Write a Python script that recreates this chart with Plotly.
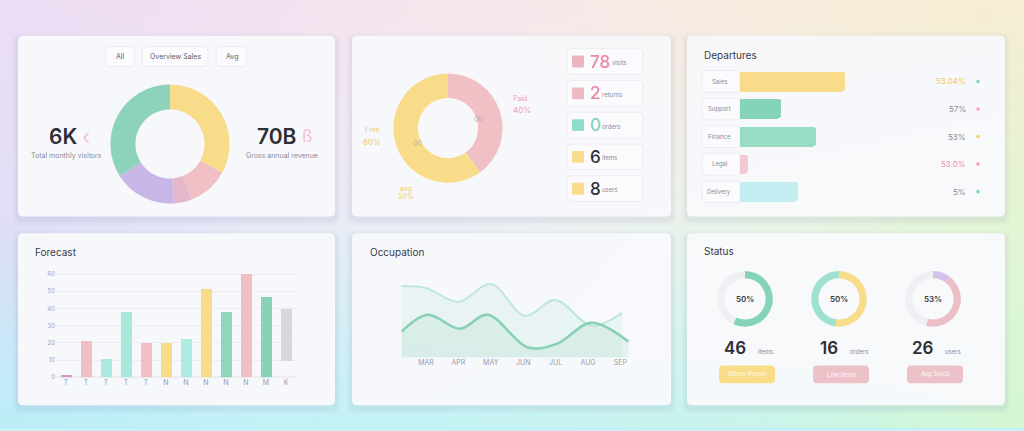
import base64
import struct
import zlib

import numpy as np
import plotly.graph_objects as go

W, H = 1024, 431

# ---- data -------------------------------------------------------------
filter_pills = ["All", "Overview Sales", "Avg"]
kpi_left, kpi_left_label = "6K", "Total monthly visitors"
kpi_right, kpi_right_label = "70B", "Gross annual revenue"

region_labels = ["North", "East", "South", "West", "Central"]
region_values = [33, 11, 5, 17, 34]

share_labels = ["Paid", "Free"]
share_values = [40, 60]

legend_numbers = ["78", "2", "0", "6", "8"]
legend_labels = ["visits", "returns", "orders", "items", "users"]

dept_labels = ["Sales", "Support", "Finance", "Legal", "Delivery"]
dept_values = [84, 33, 61, 6, 46]
dept_pct = ["53.04%", "57%", "53%", "53.0%", "5%"]

forecast_ticks = ["T", "T", "T", "T", "T", "N", "N", "N", "N", "N", "M", "K"]
forecast_base = [0, 0, 0, 0, 0, 0, 0, 0, 0, 0, 0, 10]
forecast_values = [1.5, 21.5, 10.8, 38.3, 20.4, 20.4, 22.7, 51.7, 38.4, 60.5, 46.9, 30]

occ_ticks = ["MAR", "APR", "MAY", "JUN", "JUL", "AUG", "SEP"]
occ_upper_x = [0.25, 1, 2, 3, 4.05, 5, 6.1, 7.05]
occ_upper_y = [72, 70, 56, 74, 42, 58, 32, 45]
occ_lower_x = [0.25, 1.05, 2.05, 2.9, 4.15, 5.05, 6.1, 7.25]
occ_lower_y = [26, 43, 29, 43, 10, 14, 35, 16]

status_rings = [[57, 43], [52, 48], [10, 44, 46]]
status_centre = ["50%", "50%", "53%"]
status_values = ["46", "16", "26"]
status_units = ["items", "orders", "users"]
status_buttons = ["Status Report", "Low Items", "Avg Stock"]

# ---- styles -----------------------------------------------------------
YELLOW, PINK, MAUVE, LAVENDER, GREEN = "#f9dc8a", "#f1c0c5", "#e4b7cb", "#c7b6e6", "#8dd3bb"
TEAL, CYAN, GREY_TRACK = "#9fe0cf", "#c3edf0", "#eef0f4"
DARK, MUTED = "#2e2e36", "#8a8a96"
FONT = "Inter"

region_colors = [YELLOW, PINK, MAUVE, LAVENDER, GREEN]
share_colors = [PINK, YELLOW]
legend_square = ["#ebb4bf", "#eebac4", "#8fdcca", YELLOW, YELLOW]
legend_text = ["#e88aa8", "#e88aa8", "#7fd3c0", DARK, DARK]
dept_colors = [YELLOW, "#86d4b8", "#98dcc4", "#f2c9d0", CYAN]
dept_pct_colors = ["#f2c85c", MUTED, MUTED, "#ee8fa8", MUTED]
dept_dot_colors = ["#7fd6c4", "#f3a0b2", "#f7d06a", "#f3a0b2", "#7fd6c4"]
forecast_colors = ["#d99bbf", PINK, "#abe9de", "#a8e8dd", PINK, YELLOW,
                   "#b0ebe2", YELLOW, "#8fd6bd", PINK, "#88d2b8", "#d8d8d8"]
ring_colors = [["#86d4b8", GREY_TRACK], [YELLOW, TEAL], ["#d3c3ec", "#ecbfc6", GREY_TRACK]]
button_colors = ["#f9dc88", "#ecc2c8", "#ecc2c8"]
PAGE_BOTTOM = "#c6f1f6"


def fx(x):
    return x / W


def fy(y):
    return 1 - y / H


def round_rect(x0, y0, x1, y1, r):
    rx, ry = r / W, r / H
    a, b, c, d = fx(x0), fy(y1), fx(x1), fy(y0)
    return (f"M{a + rx},{b} L{c - rx},{b} Q{c},{b} {c},{b + ry} L{c},{d - ry} "
            f"Q{c},{d} {c - rx},{d} L{a + rx},{d} Q{a},{d} {a},{d - ry} "
            f"L{a},{b + ry} Q{a},{b} {a + rx},{b} Z")


def png_uri(rgb):
    h, w, _ = rgb.shape
    raw = b"".join(b"\x00" + rgb[i].astype(np.uint8).tobytes() for i in range(h))

    def chunk(tag, body):
        return struct.pack(">I", len(body)) + tag + body + struct.pack(">I", zlib.crc32(tag + body) & 0xffffffff)

    png = (b"\x89PNG\r\n\x1a\n" + chunk(b"IHDR", struct.pack(">IIBBBBB", w, h, 8, 2, 0, 0, 0))
           + chunk(b"IDAT", zlib.compress(raw)) + chunk(b"IEND", b""))
    return "data:image/png;base64," + base64.b64encode(png).decode()


# background gradient built from a few colour stops
stops = np.array([
    [[236, 222, 246], [244, 225, 240], [247, 232, 236], [248, 236, 222], [247, 238, 210]],
    [[226, 222, 246], [234, 234, 246], [238, 240, 244], [236, 244, 232], [228, 246, 212]],
    [[188, 238, 248], [194, 242, 247], [198, 243, 243], [202, 245, 236], [212, 247, 212]],
], dtype=float)
gh, gw = 54, 128
ys = np.linspace(0, stops.shape[0] - 1, gh)
xs = np.linspace(0, stops.shape[1] - 1, gw)
y0i = np.clip(np.floor(ys).astype(int), 0, stops.shape[0] - 2)
x0i = np.clip(np.floor(xs).astype(int), 0, stops.shape[1] - 2)
ty = (ys - y0i)[:, None, None]
tx = (xs - x0i)[None, :, None]
top = stops[y0i][:, x0i] * (1 - tx) + stops[y0i][:, x0i + 1] * tx
bot = stops[y0i + 1][:, x0i] * (1 - tx) + stops[y0i + 1][:, x0i + 1] * tx
background = top * (1 - ty) + bot * ty

fig = go.Figure()
shapes = []
ann = []


def text(x, y, s, size=8, color=MUTED, anchor="center", weight=400):
    ann.append(dict(x=fx(x), y=fy(y), xref="paper", yref="paper", text=s, showarrow=False,
                    xanchor=anchor, yanchor="middle",
                    font=dict(family=FONT, size=size, color=color, weight=weight)))


def box(x0, y0, x1, y1, r=4, fill="#ffffff", line="rgba(0,0,0,0)", width=0):
    shapes.append(dict(type="path", path=round_rect(x0, y0, x1, y1, r), xref="paper", yref="paper",
                       fillcolor=fill, line=dict(color=line, width=width), layer="below"))


def dot(x, y, r, color):
    shapes.append(dict(type="circle", xref="paper", yref="paper", x0=fx(x - r), x1=fx(x + r),
                       y0=fy(y + r), y1=fy(y - r), fillcolor=color, line=dict(width=0), layer="below"))


cards = [(18, 36, 335, 218), (352, 36, 671, 218), (687, 36, 1005, 218),
         (18, 235, 335, 408), (352, 235, 671, 408), (687, 235, 1005, 408)]
for x0, y0, x1, y1 in cards:
    for grow, alpha in [(6, 0.025), (4, 0.035), (2, 0.05)]:
        box(x0 - grow, y0 - grow + 3, x1 + grow, y1 + grow + 3, 4 + grow,
            fill=f"rgba(120,120,170,{alpha})")
    box(x0, y0, x1, y1, 5, fill="rgba(248,249,252,0.97)")

# ---- card 1: region donut with KPIs -----------------------------------
for (x0, x1), label in zip([(105, 135), (142, 208), (216, 247)], filter_pills):
    box(x0, 47, x1, 67, 4, fill="#fbfbfd", line="#ebebf1", width=1)
    text((x0 + x1) / 2, 57, label, size=7, color="#5b5b66")

fig.add_trace(go.Pie(values=region_values, labels=region_labels, hole=0.58, sort=False,
                     direction="clockwise", rotation=0, textinfo="none", hoverinfo="label+percent",
                     marker=dict(colors=region_colors, line=dict(width=0)),
                     domain=dict(x=[fx(110), fx(230)], y=[fy(205), fy(85)]), showlegend=False))
text(63, 137, kpi_left, size=21, color=DARK, weight=600)
text(86, 137, "‹", size=21, color="rgba(240,170,195,0.7)")
text(276, 137, kpi_right, size=21, color=DARK, weight=600)
text(307, 137, "ß", size=17, color="rgba(240,170,195,0.7)")
text(66, 157, kpi_left_label, size=7)
text(282, 157, kpi_right_label, size=7)

# ---- card 2: share donut with legend boxes ----------------------------
fig.add_trace(go.Pie(values=share_values, labels=share_labels, hole=0.55, sort=False,
                     direction="clockwise", rotation=0, textinfo="none", hoverinfo="label+percent",
                     marker=dict(colors=share_colors, line=dict(width=0)),
                     domain=dict(x=[fx(393), fx(503)], y=[fy(184), fy(74)]), showlegend=False))
text(478, 120, "00", size=7, color="rgba(150,150,160,0.6)")
text(417, 145, "00", size=7, color="rgba(150,150,160,0.6)")
text(520, 99, share_labels[0], size=7, color="#eaa2b4")
text(522, 111, f"{share_values[0]}%", size=8, color="#eaa2b4")
text(372, 130, share_labels[1], size=7, color="#f0cd70")
text(372, 143, f"{share_values[1]}%", size=8, color="#f0cd70")
text(406, 190, "avg", size=7, color="#f0cd70")
text(406, 198, "50%", size=7, color="#f0cd70")

for i, (num, lab) in enumerate(zip(legend_numbers, legend_labels)):
    cy = 62 + i * 32
    box(567, cy - 13, 643, cy + 13, 4, fill="#fbfbfd", line="#ececf2", width=1)
    box(572, cy - 6, 584, cy + 6, 1.5, fill=legend_square[i])
    text(588, cy, num, size=17, color=legend_text[i], anchor="left", weight=500)
    text(590 + 10 * len(num), cy + 1, lab, size=6, color=MUTED, anchor="left")

# ---- card 3: department bars ------------------------------------------
text(702, 55, "Departures", size=10, color="#3a3a44", anchor="left")
fig.add_trace(go.Bar(x=dept_values, y=list(range(len(dept_values))), orientation="h",
                     width=0.72, marker=dict(color=dept_colors, cornerradius=4, line=dict(width=0)),
                     xaxis="x3", yaxis="y3", showlegend=False, hoverinfo="x"))
for i, (lab, pct) in enumerate(zip(dept_labels, dept_pct)):
    cy = 82 + i * 27.75
    box(702, cy - 11, 740, cy + 11, 3, fill="#fbfbfd", line="#ececf2", width=1)
    text(719, cy, lab, size=6, color=MUTED)
    text(968, cy, pct, size=8, color=dept_pct_colors[i], anchor="right")
    dot(978, cy, 1.8, dept_dot_colors[i])

# ---- card 4: forecast bars --------------------------------------------
text(33, 254, "Forecast", size=10, color="#3a3a44", anchor="left")
fig.add_trace(go.Bar(x=list(range(len(forecast_values))), y=forecast_values, base=forecast_base,
                     width=0.55, marker=dict(color=forecast_colors, line=dict(width=0)),
                     xaxis="x", yaxis="y", showlegend=False, hoverinfo="y"))

# ---- card 5: occupation area ------------------------------------------
text(368, 254, "Occupation", size=10, color="#3a3a44", anchor="left")
fig.add_trace(go.Scatter(x=occ_upper_x, y=occ_upper_y, mode="lines", line=dict(color="#bfe6dc", width=2, shape="spline"),
                         fill="tozeroy", fillcolor="rgba(205,236,228,0.35)", xaxis="x2", yaxis="y2",
                         showlegend=False))
fig.add_trace(go.Scatter(x=occ_lower_x, y=occ_lower_y, mode="lines", line=dict(color="#86d0b6", width=2.5, shape="spline"),
                         fill="tozeroy", fillcolor="rgba(175,222,205,0.28)", xaxis="x2", yaxis="y2",
                         showlegend=False))

# ---- card 6: status rings ---------------------------------------------
text(702, 253, "Status", size=10, color="#3a3a44", anchor="left")
for i, cx in enumerate([745, 839, 933]):
    fig.add_trace(go.Pie(values=status_rings[i], hole=0.74, sort=False, direction="clockwise",
                         rotation=0, textinfo="none", hoverinfo="percent",
                         marker=dict(colors=ring_colors[i], line=dict(width=0)),
                         domain=dict(x=[fx(cx - 28), fx(cx + 28)], y=[fy(329), fy(273)]), showlegend=False))
    text(cx, 301, status_centre[i], size=8, color="#3a3a44", weight=600)
    text(cx - 10, 350, status_values[i], size=17, color=DARK, weight=600)
    text(cx + 20, 354, status_units[i], size=6, color=MUTED)
    box(cx - 26, 368, cx + 30, 386, 4, fill=button_colors[i])
    text(cx + 2, 377, status_buttons[i], size=6, color="rgba(255,255,255,0.9)")

hidden = dict(visible=False, fixedrange=True)
fig.update_layout(
    width=W, height=H, margin=dict(l=0, r=0, t=0, b=0),
    paper_bgcolor=PAGE_BOTTOM, plot_bgcolor="rgba(0,0,0,0)",
    font=dict(family=FONT, color=MUTED),
    images=[dict(source=png_uri(background), xref="paper", yref="paper", x=0, y=1,
                 sizex=1, sizey=1, sizing="stretch", xanchor="left", yanchor="top", layer="below")],
    shapes=shapes, annotations=ann,
    xaxis=dict(domain=[fx(56), fx(296)], range=[-0.5, 11.5], tickvals=list(range(12)), ticktext=forecast_ticks,
               showgrid=False, zeroline=False, showline=False, ticks="",
               tickfont=dict(size=7, color="#9a9aa6"), fixedrange=True),
    yaxis=dict(domain=[fy(380), fy(272.5)], range=[0, 62], tickvals=[0, 10, 20, 30, 40, 50, 60],
               gridcolor="#ececf2", gridwidth=1, zeroline=True, zerolinecolor="#ececf2", showline=False,
               ticks="", tickfont=dict(size=6, color="#a0a0aa"), fixedrange=True),
    xaxis2=dict(domain=[fx(393.6), fx(652.8)], range=[0, 8], tickvals=list(range(1, 8)), ticktext=occ_ticks,
                showgrid=False, zeroline=False, showline=False, ticks="", anchor="y2",
                tickfont=dict(size=7, color="#9a9aa6"), fixedrange=True),
    yaxis2=dict(domain=[fy(360), fy(260)], range=[0, 100], anchor="x2", **hidden),
    xaxis3=dict(domain=[fx(740), fx(990)], range=[0, 200], anchor="y3", **hidden),
    yaxis3=dict(domain=[fy(206.9), fy(68.1)], range=[4.5, -0.5], anchor="x3", **hidden),
    bargap=0,
)

# the page body has a default margin; drop it so the figure fills the window
fig.write_html("out.html", config=dict(displayModeBar=False),
               post_script=f"document.body.style.margin='0';document.body.style.background='{PAGE_BOTTOM}';")
